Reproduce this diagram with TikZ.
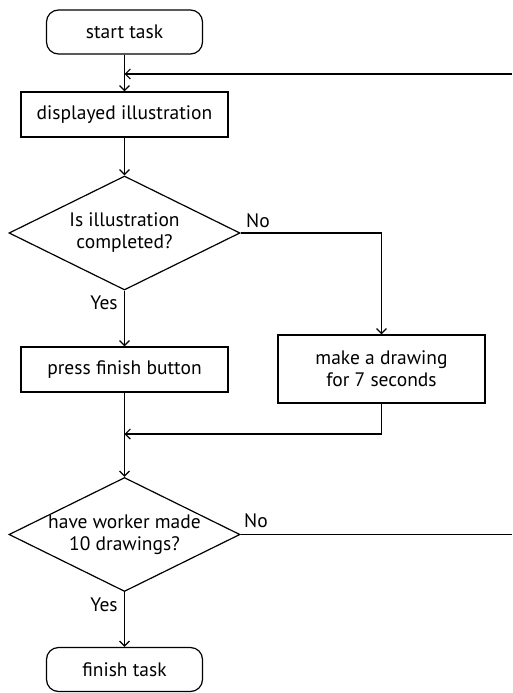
\documentclass[tikz,border=0pt]{standalone}
\usepackage{fontspec}
\setmainfont{PT Sans}
\usetikzlibrary{shapes.geometric,arrows.meta}
\begin{document}
\begin{tikzpicture}[x=1pt,y=-1pt,
  every node/.style={font=\fontsize{19.5}{22}\selectfont},
  base/.style={draw,line width=1.2pt,inner sep=0pt},
  term/.style={base,rounded corners=12pt,minimum width=156pt,minimum height=44pt},
  proc/.style={base,minimum width=207pt,minimum height=45pt,align=center},
  dia/.style={base,diamond,minimum width=231pt,minimum height=114pt},
  txt/.style={align=center,inner sep=0pt},
  lbl/.style={inner sep=0pt},
  conn/.style={line width=1.2pt},
  arr/.style={conn,-{Straight Barb[length=5pt,width=10pt,line width=1.2pt]}}]
\useasboundingbox (0,0) rectangle (512,693);
\node[term] (start) at (124.5,32) {start task};
\node[proc] (disp) at (124.5,114.5) {displayed illustration};
\node[dia] (d1) at (124.5,233) {};
\node[txt] (d1t) at (124.5,233) {Is illustration\\completed?};
\node[proc] (press) at (124.5,369.5) {press finish button};
\node[proc,minimum height=68pt] (make) at (381.5,369) {make a drawing\\for 7 seconds};
\node[dia] (d2) at (124.5,534.5) {};
\node[txt] (d2t) at (124.5,535) {have worker made\\10 drawings?};
\node[term] (finish) at (124.5,669.5) {finish task};
\coordinate (j1) at (124.5,74);
\coordinate (r1) at (512,74);
\coordinate (j2) at (124.5,434);
\coordinate (r2) at (512,534.5);
\draw[conn] (start.south) -- (j1);
\draw[arr] (j1) -- (disp.north);
\draw[arr] (r1) -- (j1);
\draw[arr] (disp.south) -- (d1.north);
\draw[arr] (d1.east) -| (make.north);
\draw[arr] (d1.south) -- (press.north);
\draw[conn] (press.south) -- (j2);
\draw[arr] (make.south) |- (j2);
\draw[arr] (j2) -- (d2.north);
\draw[conn] (d2.east) -- (r2);
\draw[arr] (d2.south) -- (finish.north);
\node[lbl] (no1) at (258,221) {No};
\node[lbl] (yes1) at (104,303) {Yes};
\node[lbl] (no2) at (256,521) {No};
\node[lbl] (yes2) at (104,605) {Yes};
\end{tikzpicture}
\end{document}
